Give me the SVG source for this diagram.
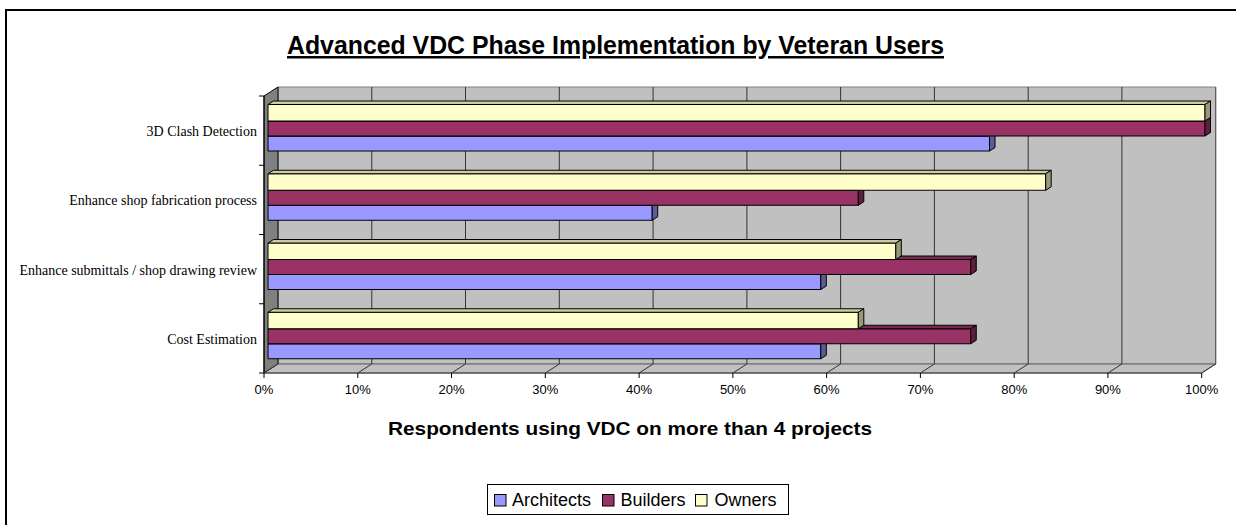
<svg xmlns="http://www.w3.org/2000/svg" width="1236" height="525" viewBox="0 0 1236 525">
<style>
.t{font-family:"Liberation Sans",Arial,sans-serif;fill:#000}
.cat{font-family:"Liberation Serif","Times New Roman",serif;font-size:14px;fill:#000;text-anchor:end}
.pct{font-family:"Liberation Sans",Arial,sans-serif;font-size:13px;fill:#000;text-anchor:middle}
.grid{stroke:#333;stroke-width:1;fill:none}
.tick{stroke:#000;stroke-width:1;fill:none}
.bar{stroke:#000;stroke-width:1;stroke-linejoin:round}
.a{fill:#9999FF}.at{fill:#7A7ACC}.as{fill:#5C5C99}
.b{fill:#993366}.bt{fill:#7A2952}.bs{fill:#5C1F3D}
.o{fill:#FFFFCC}.ot{fill:#CCCCA3}.os{fill:#99997A}
</style>
<rect x="0" y="0" width="1236" height="525" fill="#fff"/>
<path d="M6,526 V10 H1240" fill="none" stroke="#000" stroke-width="2"/>

<g id="title">
<text class="t" x="615.5" y="54" font-size="25" font-weight="bold" text-anchor="middle" text-decoration="underline" textLength="657" lengthAdjust="spacingAndGlyphs">Advanced VDC Phase Implementation by Veteran Users</text>
</g>

<g id="plot-area">
<polygon points="278,87 1215.7,87 1215.7,364 278,364" fill="#c0c0c0" stroke="#808080" stroke-width="1"/>
<polygon points="264,96 278,87 278,364 264,373" fill="#808080" stroke="#000" stroke-width="1"/>
<polygon points="264,373 278,364 1215.7,364 1201.7,373" fill="#c0c0c0" stroke="#606060" stroke-width="1"/>
<g class="grid">
<line x1="371.8" y1="87" x2="371.8" y2="364"/><line x1="465.5" y1="87" x2="465.5" y2="364"/><line x1="559.3" y1="87" x2="559.3" y2="364"/><line x1="653.1" y1="87" x2="653.1" y2="364"/><line x1="746.9" y1="87" x2="746.9" y2="364"/><line x1="840.6" y1="87" x2="840.6" y2="364"/><line x1="934.4" y1="87" x2="934.4" y2="364"/><line x1="1028.2" y1="87" x2="1028.2" y2="364"/><line x1="1121.9" y1="87" x2="1121.9" y2="364"/><line x1="1215.7" y1="87" x2="1215.7" y2="364" stroke="#555"/>
<line x1="278" y1="364" x2="264" y2="373"/><line x1="371.8" y1="364" x2="357.8" y2="373"/><line x1="465.5" y1="364" x2="451.5" y2="373"/><line x1="559.3" y1="364" x2="545.3" y2="373"/><line x1="653.1" y1="364" x2="639.1" y2="373"/><line x1="746.9" y1="364" x2="732.9" y2="373"/><line x1="840.6" y1="364" x2="826.6" y2="373"/><line x1="934.4" y1="364" x2="920.4" y2="373"/><line x1="1028.2" y1="364" x2="1014.2" y2="373"/><line x1="1121.9" y1="364" x2="1107.9" y2="373"/><line x1="1215.7" y1="364" x2="1201.7" y2="373"/>
</g>
<g class="tick">
<line x1="264" y1="96" x2="264" y2="373"/>
<line x1="264" y1="373" x2="1201.7" y2="373" stroke="#404040"/>
<line x1="259" y1="96" x2="264" y2="96"/><line x1="259" y1="165.25" x2="264" y2="165.25"/><line x1="259" y1="234.5" x2="264" y2="234.5"/><line x1="259" y1="303.75" x2="264" y2="303.75"/><line x1="259" y1="373" x2="264" y2="373"/>
<line x1="264" y1="373" x2="264" y2="378"/><line x1="357.8" y1="373" x2="357.8" y2="378"/><line x1="451.5" y1="373" x2="451.5" y2="378"/><line x1="545.3" y1="373" x2="545.3" y2="378"/><line x1="639.1" y1="373" x2="639.1" y2="378"/><line x1="732.9" y1="373" x2="732.9" y2="378"/><line x1="826.6" y1="373" x2="826.6" y2="378"/><line x1="920.4" y1="373" x2="920.4" y2="378"/><line x1="1014.2" y1="373" x2="1014.2" y2="378"/><line x1="1107.9" y1="373" x2="1107.9" y2="378"/><line x1="1201.7" y1="373" x2="1201.7" y2="378"/>
</g>
</g>

<g id="bars-3d-clash-detection" class="bar">
<rect class="a" x="268" y="136" width="721.5" height="15"/>
<polygon class="at" points="268,136 273.5,132.5 995,132.5 989.5,136"/>
<polygon class="as" points="989.5,136 995,132.5 995,147.5 989.5,151"/>
<rect class="b" x="268" y="121" width="937" height="15"/>
<polygon class="bt" points="268,121 273.5,117.5 1210.5,117.5 1205,121"/>
<polygon class="bs" points="1205,121 1210.5,117.5 1210.5,132.5 1205,136"/>
<rect class="o" x="268" y="104.5" width="937" height="16.5"/>
<polygon class="ot" points="268,104.5 273.5,101 1210.5,101 1205,104.5"/>
<polygon class="os" points="1205,104.5 1210.5,101 1210.5,117.5 1205,121"/>
</g>

<g id="bars-shop-fabrication" class="bar">
<rect class="a" x="268" y="205.25" width="384.2" height="15"/>
<polygon class="at" points="268,205.25 273.5,201.75 657.7,201.75 652.2,205.25"/>
<polygon class="as" points="652.2,205.25 657.7,201.75 657.7,216.75 652.2,220.25"/>
<rect class="b" x="268" y="190.25" width="590.3" height="15"/>
<polygon class="bt" points="268,190.25 273.5,186.75 863.8,186.75 858.3,190.25"/>
<polygon class="bs" points="858.3,190.25 863.8,186.75 863.8,201.75 858.3,205.25"/>
<rect class="o" x="268" y="173.75" width="777.7" height="16.5"/>
<polygon class="ot" points="268,173.75 273.5,170.25 1051.2,170.25 1045.7,173.75"/>
<polygon class="os" points="1045.7,173.75 1051.2,170.25 1051.2,186.75 1045.7,190.25"/>
</g>

<g id="bars-submittals" class="bar">
<rect class="a" x="268" y="274.5" width="552.8" height="15"/>
<polygon class="at" points="268,274.5 273.5,271 826.3,271 820.8,274.5"/>
<polygon class="as" points="820.8,274.5 826.3,271 826.3,286 820.8,289.5"/>
<rect class="b" x="268" y="259.5" width="702.75" height="15"/>
<polygon class="bt" points="268,259.5 273.5,256 976.25,256 970.75,259.5"/>
<polygon class="bs" points="970.75,259.5 976.25,256 976.25,271 970.75,274.5"/>
<rect class="o" x="268" y="243" width="627.8" height="16.5"/>
<polygon class="ot" points="268,243 273.5,239.5 901.3,239.5 895.8,243"/>
<polygon class="os" points="895.8,243 901.3,239.5 901.3,256 895.8,259.5"/>
</g>

<g id="bars-cost-estimation" class="bar">
<rect class="a" x="268" y="343.75" width="552.8" height="15"/>
<polygon class="at" points="268,343.75 273.5,340.25 826.3,340.25 820.8,343.75"/>
<polygon class="as" points="820.8,343.75 826.3,340.25 826.3,355.25 820.8,358.75"/>
<rect class="b" x="268" y="328.75" width="702.75" height="15"/>
<polygon class="bt" points="268,328.75 273.5,325.25 976.25,325.25 970.75,328.75"/>
<polygon class="bs" points="970.75,328.75 976.25,325.25 976.25,340.25 970.75,343.75"/>
<rect class="o" x="268" y="312.25" width="590.3" height="16.5"/>
<polygon class="ot" points="268,312.25 273.5,308.75 863.8,308.75 858.3,312.25"/>
<polygon class="os" points="858.3,312.25 863.8,308.75 863.8,325.25 858.3,328.75"/>
</g>

<g id="category-labels">
<text class="cat" x="257" y="136">3D Clash Detection</text>
<text class="cat" x="257" y="205.4">Enhance shop fabrication process</text>
<text class="cat" x="257" y="274.6">Enhance submittals / shop drawing review</text>
<text class="cat" x="257" y="343.9">Cost Estimation</text>
</g>

<g id="value-labels">
<text class="pct" x="264" y="394">0%</text><text class="pct" x="357.8" y="394">10%</text><text class="pct" x="451.5" y="394">20%</text><text class="pct" x="545.3" y="394">30%</text><text class="pct" x="639.1" y="394">40%</text><text class="pct" x="732.9" y="394">50%</text><text class="pct" x="826.6" y="394">60%</text><text class="pct" x="920.4" y="394">70%</text><text class="pct" x="1014.2" y="394">80%</text><text class="pct" x="1107.9" y="394">90%</text><text class="pct" x="1201.7" y="394">100%</text>
</g>

<g id="axis-title">
<text class="t" x="630" y="435" font-size="19" font-weight="bold" text-anchor="middle" textLength="484" lengthAdjust="spacingAndGlyphs">Respondents using VDC on more than 4 projects</text>
</g>

<g id="legend">
<rect x="487.5" y="484.5" width="301" height="30" fill="#fff" stroke="#000" stroke-width="1"/>
<rect class="a" x="494.5" y="494.5" width="11.5" height="11.5" stroke="#000" stroke-width="1"/>
<text class="t" x="512" y="505.5" font-size="18">Architects</text>
<rect class="b" x="602.5" y="494.5" width="11.5" height="11.5" stroke="#000" stroke-width="1"/>
<text class="t" x="620.5" y="505.5" font-size="18">Builders</text>
<rect class="o" x="695.5" y="494.5" width="11.5" height="11.5" stroke="#000" stroke-width="1"/>
<text class="t" x="714.5" y="505.5" font-size="18">Owners</text>
</g>
</svg>
